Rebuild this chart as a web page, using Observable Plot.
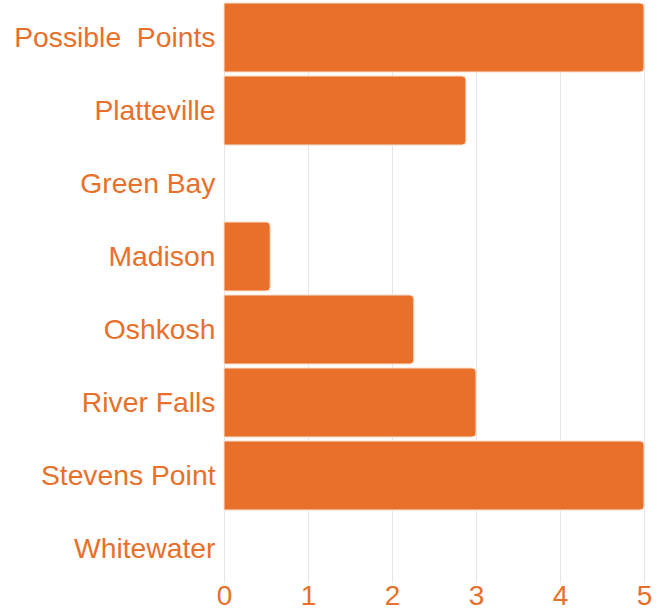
<!DOCTYPE html>
<html><head><meta charset="utf-8">
<script src="https://cdn.jsdelivr.net/npm/d3@7"></script>
<script src="https://cdn.jsdelivr.net/npm/@observablehq/plot@0.6"></script>
<style>body{margin:0;background:#fff}</style>
</head><body><div id="chart"></div>
<script>
const categories = ["Possible\u00a0 Points","Platteville","Green Bay","Madison","Oshkosh","River Falls","Stevens Point","Whitewater"];
const values = [5, 2.88, 0, 0.55, 2.26, 3.0, 5, 0];
const xTicks = [0,1,2,3,4,5];
const data = categories.map((c,i)=>({name:c, value:values[i]}));
const orange = "#E8702A";
const chart = Plot.plot({
  width: 668, height: 611,
  marginLeft: 224, marginRight: 24, marginTop: 3, marginBottom: 28,
  style: {fontFamily: "Liberation Sans, Arial, sans-serif", fontSize: "28px", color: orange, background: "#fff"},
  x: {domain: [0,5], label: null},
  y: {domain: categories, label: null, paddingInner: 0.06, paddingOuter: 0},
  marks: [
    Plot.gridX(xTicks, {stroke: "#e6e6e6", strokeOpacity: 1, strokeWidth: 1}),
    Plot.barX(data.filter(d=>d.value>0), {x: "value", y: "name", fill: orange, stroke: "#fbe0cf", strokeWidth: 1, rx2: 4}),
    Plot.axisX({ticks: xTicks, tickFormat: d3.format("d"), tickSize: 0, tickPadding: 2, fontSize: 28, fill: orange, label: null}),
    Plot.axisY({tickSize: 0, tickPadding: 9, fontSize: 28.3, fill: orange, label: null})
  ]
});
document.getElementById("chart").append(chart);
</script></body></html>
